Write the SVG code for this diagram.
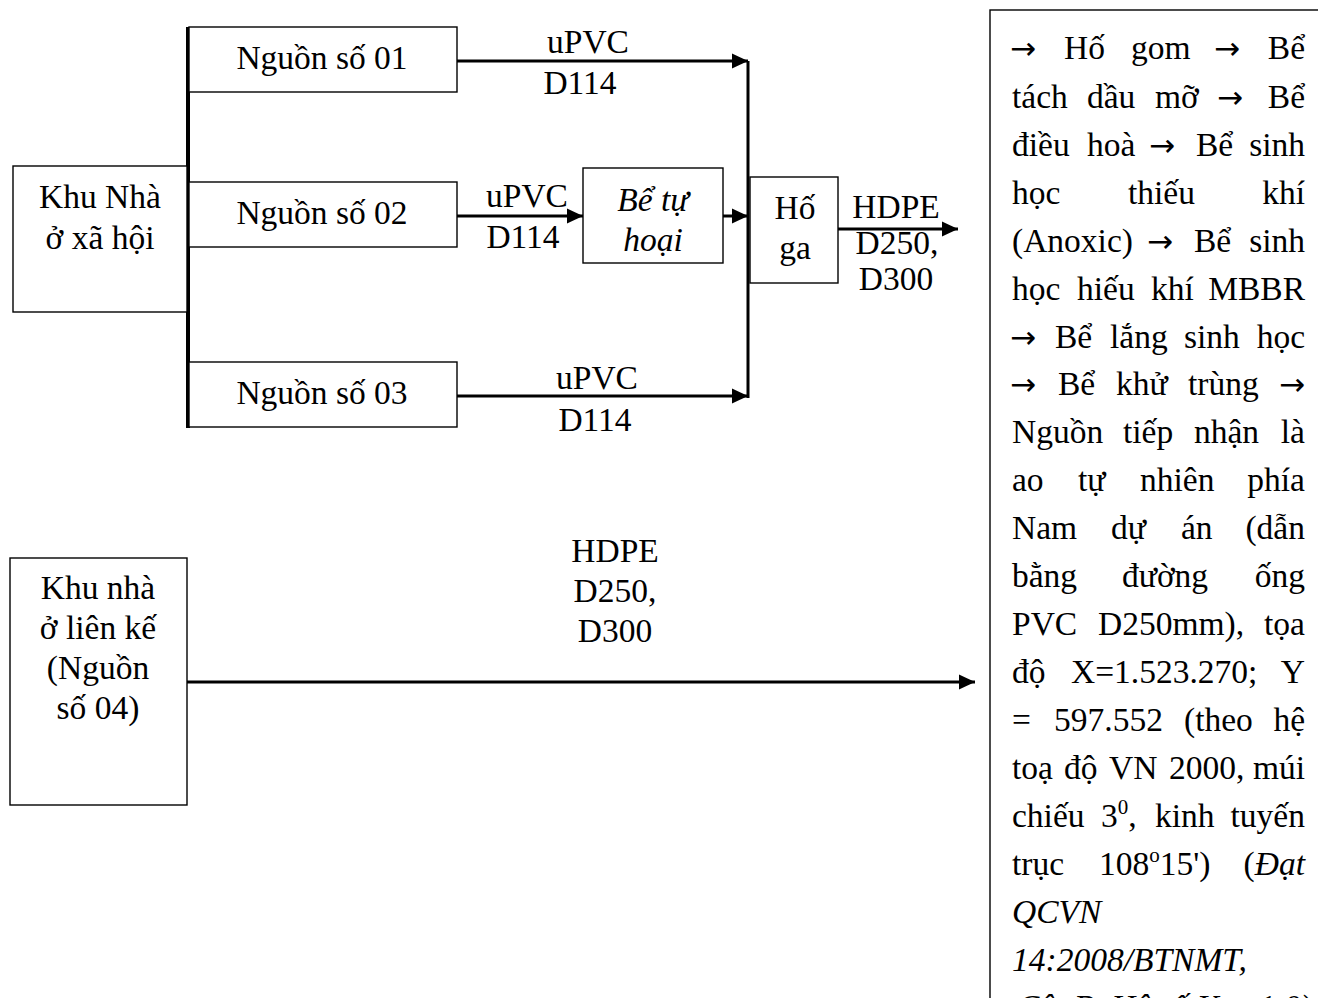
<svg xmlns="http://www.w3.org/2000/svg" width="1318" height="998" viewBox="0 0 1318 998">
<style>
.t{font-family:"Liberation Serif","Times New Roman",serif;font-size:33.5px;fill:#000}
.ar{font-family:"DejaVu Sans",sans-serif;font-size:31px;fill:#000}
.c{text-anchor:middle}
.e{text-anchor:end}
.i{font-style:italic}
.box{fill:#fff;stroke:#000;stroke-width:1.4}
.ln{stroke:#000;stroke-width:3;fill:none}
.bus{stroke:#000;stroke-width:4;fill:none}
</style>
<defs>
<marker id="ah" markerUnits="userSpaceOnUse" markerWidth="16" markerHeight="16" refX="16" refY="8" orient="auto" viewBox="0 0 16 16">
<path d="M0,0.5 L16,8 L0,15.5 z" fill="#000"/>
</marker>
</defs>
<rect width="1318" height="998" fill="#fff"/>

<g id="connectors">
<line class="bus" x1="188" y1="27" x2="188" y2="428"/>
<line class="ln" x1="748" y1="61" x2="748" y2="398"/>
<line class="ln" x1="457" y1="61" x2="748" y2="61" marker-end="url(#ah)"/>
<line class="ln" x1="457" y1="216" x2="583" y2="216" marker-end="url(#ah)"/>
<line class="ln" x1="723" y1="216" x2="748" y2="216" marker-end="url(#ah)"/>
<line class="ln" x1="457" y1="396" x2="748" y2="396" marker-end="url(#ah)"/>
<line class="ln" x1="838" y1="229" x2="958" y2="229" marker-end="url(#ah)"/>
<line class="ln" x1="187" y1="682" x2="975" y2="682" marker-end="url(#ah)"/>
<text class="t c" x="588" y="53">uPVC</text>
<text class="t c" x="580" y="94">D114</text>
<text class="t c" x="527" y="207">uPVC</text>
<text class="t c" x="523" y="248">D114</text>
<text class="t c" x="597" y="389">uPVC</text>
<text class="t c" x="595" y="431">D114</text>
<text class="t c" x="896" y="218">HDPE</text>
<text class="t c" x="897" y="254">D250,</text>
<text class="t c" x="896" y="290">D300</text>
<text class="t c" x="615" y="562">HDPE</text>
<text class="t c" x="615" y="602">D250,</text>
<text class="t c" x="615" y="642">D300</text>
</g>

<g id="khu-nha-xa-hoi">
<rect class="box" x="13" y="166" width="174" height="146"/>
<text class="t c" x="100" y="208">Khu Nhà</text>
<text class="t c" x="100" y="249">ở xã hội</text>
</g>

<g id="nguon-01">
<rect class="box" x="189" y="27" width="268" height="65"/>
<text class="t c" x="322" y="69">Nguồn số 01</text>
</g>
<g id="nguon-02">
<rect class="box" x="189" y="182" width="268" height="65"/>
<text class="t c" x="322" y="224">Nguồn số 02</text>
</g>
<g id="nguon-03">
<rect class="box" x="189" y="362" width="268" height="65"/>
<text class="t c" x="322" y="404">Nguồn số 03</text>
</g>

<g id="be-tu-hoai">
<rect class="box" x="583" y="168" width="140" height="95"/>
<text class="t c i" x="653" y="211">Bể tự</text>
<text class="t c i" x="653" y="251">hoại</text>
</g>

<g id="ho-ga">
<rect class="box" x="750" y="177" width="88" height="106"/>
<text class="t c" x="795" y="219">Hố</text>
<text class="t c" x="795" y="259">ga</text>
</g>

<g id="khu-nha-lien-ke">
<rect class="box" x="10" y="558" width="177" height="247"/>
<text class="t c" x="98" y="599">Khu nhà</text>
<text class="t c" x="98" y="639">ở liên kế</text>
<text class="t c" x="98" y="679">(Nguồn</text>
<text class="t c" x="98" y="719">số 04)</text>
</g>

<g id="quy-trinh-xu-ly">
<rect class="box" x="990" y="10" width="340" height="1000"/>
<text class="ar" x="1010" y="59">→</text><text class="t" x="1064" y="59">Hố</text><text class="t" x="1131" y="59">gom</text><text class="ar" x="1214" y="59">→</text><text class="t e" x="1305" y="59">Bể</text>
<text class="t" x="1012" y="108">tách</text><text class="t" x="1087" y="108">dầu</text><text class="t" x="1155" y="108">mỡ</text><text class="ar" x="1217" y="108">→</text><text class="t e" x="1305" y="108">Bể</text>
<text class="t" x="1012" y="156">điều</text><text class="t" x="1087" y="156">hoà</text><text class="ar" x="1149" y="156">→</text><text class="t" x="1196" y="156">Bể</text><text class="t e" x="1305" y="156">sinh</text>
<text class="t" x="1012" y="204">học</text><text class="t" x="1128" y="204">thiếu</text><text class="t e" x="1305" y="204">khí</text>
<text class="t" x="1012" y="252">(Anoxic)</text><text class="ar" x="1147" y="252">→</text><text class="t" x="1194" y="252">Bể</text><text class="t e" x="1305" y="252">sinh</text>
<text class="t" x="1012" y="300">học</text><text class="t" x="1077" y="300">hiếu</text><text class="t" x="1151" y="300">khí</text><text class="t e" x="1305" y="300">MBBR</text>
<text class="ar" x="1010" y="348">→</text><text class="t" x="1055" y="348">Bể</text><text class="t" x="1110" y="348">lắng</text><text class="t" x="1184" y="348">sinh</text><text class="t e" x="1305" y="348">học</text>
<text class="ar" x="1010" y="395">→</text><text class="t" x="1058" y="395">Bể</text><text class="t" x="1116" y="395">khử</text><text class="t" x="1188" y="395">trùng</text><text class="ar e" x="1305" y="395">→</text>
<text class="t" x="1012" y="443">Nguồn</text><text class="t" x="1123" y="443">tiếp</text><text class="t" x="1194" y="443">nhận</text><text class="t e" x="1305" y="443">là</text>
<text class="t" x="1012" y="491">ao</text><text class="t" x="1078" y="491">tự</text><text class="t" x="1140" y="491">nhiên</text><text class="t e" x="1305" y="491">phía</text>
<text class="t" x="1012" y="539">Nam</text><text class="t" x="1111" y="539">dự</text><text class="t" x="1181" y="539">án</text><text class="t e" x="1305" y="539">(dẫn</text>
<text class="t" x="1012" y="587">bằng</text><text class="t" x="1122" y="587">đường</text><text class="t e" x="1305" y="587">ống</text>
<text class="t" x="1012" y="635">PVC</text><text class="t" x="1098" y="635">D250mm),</text><text class="t e" x="1305" y="635">tọa</text>
<text class="t" x="1012" y="683">độ</text><text class="t" x="1071" y="683">X=1.523.270;</text><text class="t e" x="1305" y="683">Y</text>
<text class="t" x="1012" y="731">=</text><text class="t" x="1054" y="731">597.552</text><text class="t" x="1184" y="731">(theo</text><text class="t e" x="1305" y="731">hệ</text>
<text class="t" x="1012" y="779">toạ</text><text class="t" x="1064" y="779">độ</text><text class="t" x="1109" y="779">VN</text><text class="t" x="1169" y="779">2000,</text><text class="t e" x="1305" y="779">múi</text>
<text class="t" x="1012" y="827">chiếu</text><text class="t" x="1101" y="827">3<tspan font-size="21" dy="-13">0</tspan><tspan dy="13">,</tspan></text><text class="t" x="1155" y="827">kinh</text><text class="t e" x="1305" y="827">tuyến</text>
<text class="t" x="1012" y="875">trục</text><text class="t" x="1099" y="875">108<tspan font-size="21" dy="-13">o</tspan><tspan dy="13">15')</tspan></text><text class="t e" x="1305" y="875">(<tspan class="i">Đạt</tspan></text>
<text class="t i" x="1012" y="923">QCVN</text>
<text class="t i" x="1012" y="971">14:2008/BTNMT,</text>
<text class="t i" x="1017" y="1018">Cột B, Hệ số K = 1,0)</text>
</g>
</svg>
